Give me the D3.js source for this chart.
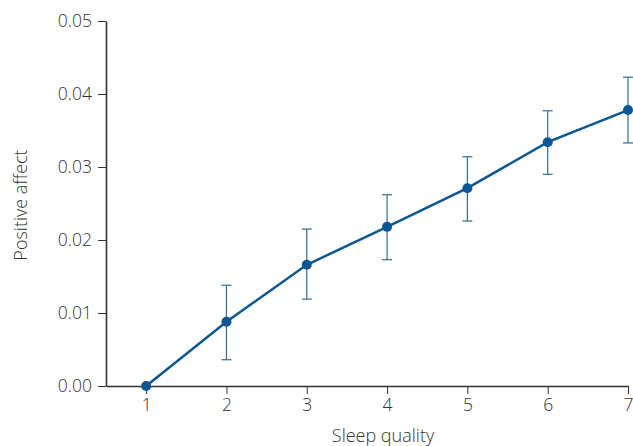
<!DOCTYPE html>
<html>
<head>
<meta charset="utf-8">
<script src="https://cdn.jsdelivr.net/npm/d3@7"></script>
<style>
  body { margin: 0; background: #fff; }
  text { font-family: "Open Sans", sans-serif; font-weight: 300; fill: #333; }
</style>
</head>
<body>
<div id="chart"></div>
<script>
// sleep quality categories and positive affect estimates
var quality = [1, 2, 3, 4, 5, 6, 7];
var affect  = [0.0000, 0.0088, 0.0166, 0.0218, 0.0271, 0.0334, 0.0378];
var upper   = [0.0000, 0.0138, 0.0215, 0.0262, 0.0314, 0.0377, 0.0423];
var lower   = [0.0000, 0.0036, 0.0119, 0.0173, 0.0226, 0.0290, 0.0333];
var yTicks  = [0, 0.01, 0.02, 0.03, 0.04, 0.05];

var width = 633, height = 446;
var margin = {top: 21, right: 4, bottom: 60, left: 106};

var svg = d3.select("#chart").append("svg")
    .attr("width", width)
    .attr("height", height);

var x = d3.scaleLinear()
    .domain([0.5, 7])
    .range([margin.left, 628]);

var y = d3.scaleLinear()
    .domain([0, 0.05])
    .range([386, margin.top]);

// x axis
var xAxis = svg.append("g")
    .attr("transform", "translate(0,386)")
    .call(d3.axisBottom(x).tickValues(quality).tickFormat(d3.format("d"))
      .tickSize(8).tickSizeOuter(0).tickPadding(5));

// y axis
var yAxis = svg.append("g")
    .attr("transform", "translate(" + margin.left + ",0)")
    .call(d3.axisLeft(y).tickValues(yTicks).tickFormat(d3.format(".2f"))
      .tickSize(8).tickSizeOuter(0).tickPadding(6));

[xAxis, yAxis].forEach(function(a) {
  a.select(".domain").attr("stroke", "#333").attr("stroke-width", 1.6);
  a.selectAll(".tick line").attr("stroke", "#333").attr("stroke-width", 1);
  a.selectAll(".tick text").style("font-size", "17.5px").attr("fill", "#333");
});

var pts = quality.map(function(q, i) {
  return {q: q, v: affect[i], hi: upper[i], lo: lower[i]};
});

// error bars
var eb = svg.append("g").attr("stroke", "#2e6c9c").attr("stroke-width", 1.2);
pts.filter(function(d) { return d.hi > d.lo; }).forEach(function(d) {
  var cx = x(d.q);
  eb.append("line").attr("x1", cx).attr("x2", cx).attr("y1", y(d.hi)).attr("y2", y(d.lo));
  eb.append("line").attr("x1", cx - 5).attr("x2", cx + 5).attr("y1", y(d.hi)).attr("y2", y(d.hi));
  eb.append("line").attr("x1", cx - 5).attr("x2", cx + 5).attr("y1", y(d.lo)).attr("y2", y(d.lo));
});

// line
var line = d3.line()
    .x(function(d) { return x(d.q); })
    .y(function(d) { return y(d.v); });

svg.append("path")
    .datum(pts)
    .attr("d", line)
    .attr("fill", "none")
    .attr("stroke", "#0b5694")
    .attr("stroke-width", 2.5);

svg.append("g").selectAll("circle")
    .data(pts)
    .join("circle")
    .attr("cx", function(d) { return x(d.q); })
    .attr("cy", function(d) { return y(d.v); })
    .attr("r", 5)
    .attr("fill", "#0b5694");

// axis labels
svg.append("text")
    .attr("x", 383)
    .attr("y", 442)
    .attr("text-anchor", "middle")
    .style("font-size", "18px")
    .text("Sleep quality");

svg.append("text")
    .attr("transform", "translate(27,205) rotate(-90)")
    .attr("text-anchor", "middle")
    .style("font-size", "18px")
    .text("Positive affect");
</script>
</body>
</html>
